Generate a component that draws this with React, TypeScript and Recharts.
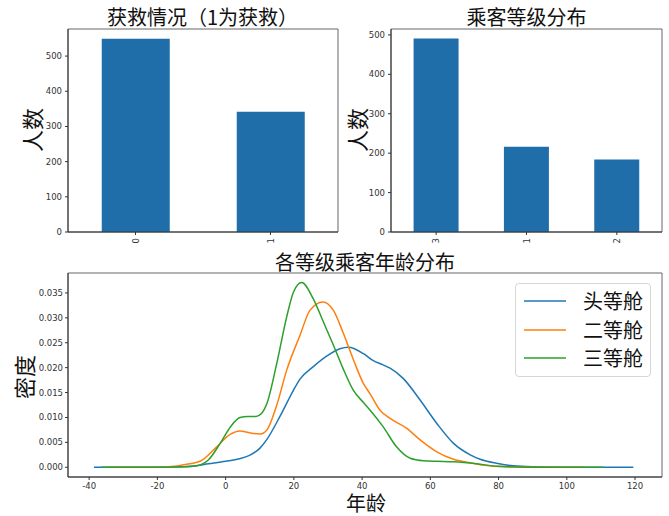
import React from 'react';
import {
    Bar,
    BarChart,
    Legend,
    Line,
    LineChart,
    ReferenceArea,
    XAxis,
    YAxis,
} from 'recharts';

// top-left: survival counts
const survivedLabels = ['0', '1'];
const survivedCounts = [549, 342];

// top-right: passenger class counts
const classLabels = ['3', '1', '2'];
const classCounts = [491, 216, 184];

const countTicks = [0, 100, 200, 300, 400, 500];

// bottom: age density per class
const firstAges = [-38.6, -25, -15, -10, -5, 0, 4, 7, 10, 12, 16, 19.9, 21.8, 25.7, 29.6, 33.5, 36, 40.4, 43.3, 46, 48.2, 52.1, 57, 61.9, 66.8, 71.7, 74.6, 79.4, 84.3, 90, 100, 119.5];
const firstDensity = [0, 0, 0.00005, 0.0002, 0.0007, 0.0012, 0.0017, 0.0024, 0.0038, 0.0055, 0.0103, 0.0155, 0.0177, 0.0202, 0.0223, 0.0238, 0.0241, 0.0228, 0.0214, 0.0206, 0.0199, 0.0178, 0.0135, 0.0088, 0.0048, 0.0025, 0.0016, 0.0008, 0.0003, 0.0001, 0.00002, 0];

const secondAges = [-34, -20, -15, -12.4, -7.5, -2.6, 1.3, 4.2, 7.2, 10.1, 12.1, 15, 17.9, 21.8, 24.7, 28.5, 31.6, 34.5, 37.5, 40.4, 42.3, 45.2, 48.2, 53.1, 57, 61.9, 66.8, 71.7, 76, 82, 90, 104.7];
const secondDensity = [0, 0.00002, 0.0002, 0.0005, 0.0012, 0.0041, 0.0066, 0.0073, 0.0069, 0.0067, 0.0075, 0.0125, 0.0195, 0.0265, 0.0315, 0.0332, 0.0315, 0.0269, 0.0215, 0.0168, 0.0148, 0.0115, 0.0098, 0.0078, 0.0055, 0.0031, 0.0016, 0.0009, 0.0004, 0.0001, 0.00002, 0];

const thirdAges = [-36.4, -20, -12, -8.4, -5, -1.6, 1.5, 4.2, 6.5, 8.9, 10.5, 12.1, 15, 17.9, 19.9, 22.3, 25.7, 28.7, 31.6, 34.5, 37.4, 40.4, 42.3, 46.2, 50.1, 54.1, 58, 62, 66.8, 73.6, 79.5, 88, 110.8];
const thirdDensity = [0, 0.00001, 0.0001, 0.0003, 0.0015, 0.0048, 0.0082, 0.01, 0.0102, 0.0102, 0.0108, 0.0128, 0.0209, 0.0302, 0.0352, 0.0371, 0.0338, 0.0291, 0.0245, 0.0197, 0.0155, 0.013, 0.0115, 0.0081, 0.0041, 0.0018, 0.0013, 0.0012, 0.0011, 0.0007, 0.0002, 0.00003, 0];

const ageTicks = [-40, -20, 0, 20, 40, 60, 80, 100, 120];
const densityTicks = [0, 0.005, 0.01, 0.015, 0.02, 0.025, 0.03, 0.035];

const series = [
    { name: '头等舱', color: '#1f77b4', ages: firstAges, density: firstDensity },
    { name: '二等舱', color: '#ff7f0e', ages: secondAges, density: secondDensity },
    { name: '三等舱', color: '#2ca02c', ages: thirdAges, density: thirdDensity },
];

const AGE_DOMAIN: [number, number] = [-46.2, 127.9];
const DENSITY_DOMAIN: [number, number] = [-0.00195, 0.039];

const BAR_COLOR = '#1f6eaa';
const FRAME = '#666';
const TICK_FONT = '"DejaVu Sans", sans-serif';
const CJK_FONT = '"Noto Sans CJK SC", "Noto Sans CJK JP", sans-serif';
const tickStyle = { fontSize: 8.5, fill: '#333', fontFamily: TICK_FONT };

const RotatedTick = (props: any) => {
    const { x, y, payload } = props;
    return (
        <text
            x={x}
            y={y}
            transform={`rotate(-90, ${x}, ${y})`}
            textAnchor="end"
            dominantBaseline="central"
            fontSize={8.5}
            fill="#333"
            fontFamily={TICK_FONT}
        >
            {payload.value}
        </text>
    );
};

const Title = ({ text, left, width, top }: { text: string; left: number; width: number; top: number }) => (
    <div
        style={{
            position: 'absolute',
            left,
            top,
            width,
            textAlign: 'center',
            fontSize: 20,
            lineHeight: '24px',
            fontFamily: CJK_FONT,
            color: '#111',
            whiteSpace: 'nowrap',
        }}
    >
        {text}
    </div>
);

const SideLabel = ({ text, cx, cy }: { text: string; cx: number; cy: number }) => (
    <div
        style={{
            position: 'absolute',
            left: cx - 30,
            top: cy - 13,
            width: 60,
            textAlign: 'center',
            fontSize: 22,
            lineHeight: '26px',
            fontFamily: CJK_FONT,
            color: '#111',
            transform: 'rotate(-90deg)',
        }}
    >
        {text}
    </div>
);

function CountChart({ labels, counts, yMax, axisWidth, width }: { labels: string[]; counts: number[]; yMax: number; axisWidth: number; width: number }) {
    const data = labels.map((name, i) => ({ name, count: counts[i] }));
    return (
        <BarChart
            width={width}
            height={260}
            data={data}
            margin={{ top: 29, right: 7, left: 0, bottom: 0 }}
            barCategoryGap="25%"
        >
            <XAxis
                dataKey="name"
                height={28}
                tick={<RotatedTick />}
                tickSize={3}
                tickMargin={3}
                axisLine={{ stroke: '#333' }}
                tickLine={{ stroke: '#333' }}
                interval={0}
            />
            <YAxis
                width={axisWidth}
                domain={[0, yMax]}
                ticks={countTicks}
                allowDataOverflow
                tick={tickStyle}
                tickSize={3}
                tickMargin={3}
                axisLine={{ stroke: '#333' }}
                tickLine={{ stroke: '#333' }}
            />
            <Bar dataKey="count" fill={BAR_COLOR} isAnimationActive={false} />
            {/* axes frame */}
            <ReferenceArea
                x1={labels[0]}
                x2={labels[labels.length - 1]}
                y1={0}
                y2={yMax}
                fill="none"
                fillOpacity={0}
                stroke={FRAME}
                strokeWidth={1}
                ifOverflow="visible"
            />
        </BarChart>
    );
}

const LegendBox = () => (
    <div
        style={{
            width: 136,
            height: 94,
            boxSizing: 'border-box',
            border: '1px solid #d6d6d6',
            borderRadius: 4,
            background: 'rgba(255,255,255,0.85)',
            padding: '3px 0 0 8px',
        }}
    >
        {series.map((s) => (
            <div key={s.name} style={{ display: 'flex', alignItems: 'center', height: 28.5 }}>
                <svg width={42} height={4} style={{ marginRight: 17 }}>
                    <line x1={0} y1={2} x2={42} y2={2} stroke={s.color} strokeWidth={1.5} />
                </svg>
                <span style={{ fontSize: 20, fontFamily: CJK_FONT, color: '#111', lineHeight: '28px' }}>{s.name}</span>
            </div>
        ))}
    </div>
);

export default function App() {
    return (
        <div style={{ position: 'absolute', left: 0, top: 0, width: 669, height: 516, background: '#fff', overflow: 'hidden' }}>
            <div style={{ position: 'absolute', left: 0, top: 0 }}>
                <CountChart labels={survivedLabels} counts={survivedCounts} yMax={577} axisWidth={68} width={345} />
            </div>
            <div style={{ position: 'absolute', left: 345, top: 0 }}>
                <CountChart labels={classLabels} counts={classCounts} yMax={515} axisWidth={46} width={324} />
            </div>
            <div style={{ position: 'absolute', left: 0, top: 240 }}>
                <LineChart width={669} height={276} margin={{ top: 33, right: 7, left: 0, bottom: 0 }}>
                    <XAxis
                        type="number"
                        dataKey="age"
                        domain={AGE_DOMAIN}
                        ticks={ageTicks}
                        allowDataOverflow
                        height={39}
                        tick={tickStyle}
                        tickSize={3}
                        tickMargin={3}
                        axisLine={{ stroke: '#333' }}
                        tickLine={{ stroke: '#333' }}
                    />
                    <YAxis
                        type="number"
                        width={68}
                        domain={DENSITY_DOMAIN}
                        ticks={densityTicks}
                        allowDataOverflow
                        tickFormatter={(v: number) => v.toFixed(3)}
                        tick={tickStyle}
                        tickSize={3}
                        tickMargin={2}
                        axisLine={{ stroke: '#333' }}
                        tickLine={{ stroke: '#333' }}
                    />
                    <ReferenceArea
                        x1={AGE_DOMAIN[0]}
                        x2={AGE_DOMAIN[1]}
                        y1={DENSITY_DOMAIN[0]}
                        y2={DENSITY_DOMAIN[1]}
                        fill="none"
                        fillOpacity={0}
                        stroke={FRAME}
                        strokeWidth={1}
                        ifOverflow="visible"
                    />
                    {series.map((s) => (
                        <Line
                            key={s.name}
                            name={s.name}
                            data={s.ages.map((age, i) => ({ age, density: s.density[i] }))}
                            dataKey="density"
                            type="monotone"
                            stroke={s.color}
                            strokeWidth={1.5}
                            dot={false}
                            isAnimationActive={false}
                        />
                    ))}
                    <Legend
                        layout="vertical"
                        align="center"
                        verticalAlign="middle"
                        wrapperStyle={{ position: 'absolute', top: 43, left: 515, width: 136, height: 94 }}
                        content={() => <LegendBox />}
                    />
                </LineChart>
            </div>

            <Title text="获救情况（1为获救）" left={68} width={269} top={5} />
            <Title text="乘客等级分布" left={391} width={271} top={5} />
            <Title text="各等级乘客年龄分布" left={68} width={594} top={250} />
            <SideLabel text="人数" cx={31} cy={130} />
            <SideLabel text="人数" cx={356} cy={130} />
            <SideLabel text="密度" cx={23} cy={377} />
            <div
                style={{
                    position: 'absolute',
                    left: 336,
                    top: 493,
                    width: 60,
                    height: 23,
                    textAlign: 'center',
                    fontSize: 20,
                    lineHeight: '23px',
                    fontFamily: '"DejaVu Sans", "Noto Sans CJK SC", sans-serif',
                    color: '#111',
                }}
            >
                年龄
            </div>
        </div>
    );
}
